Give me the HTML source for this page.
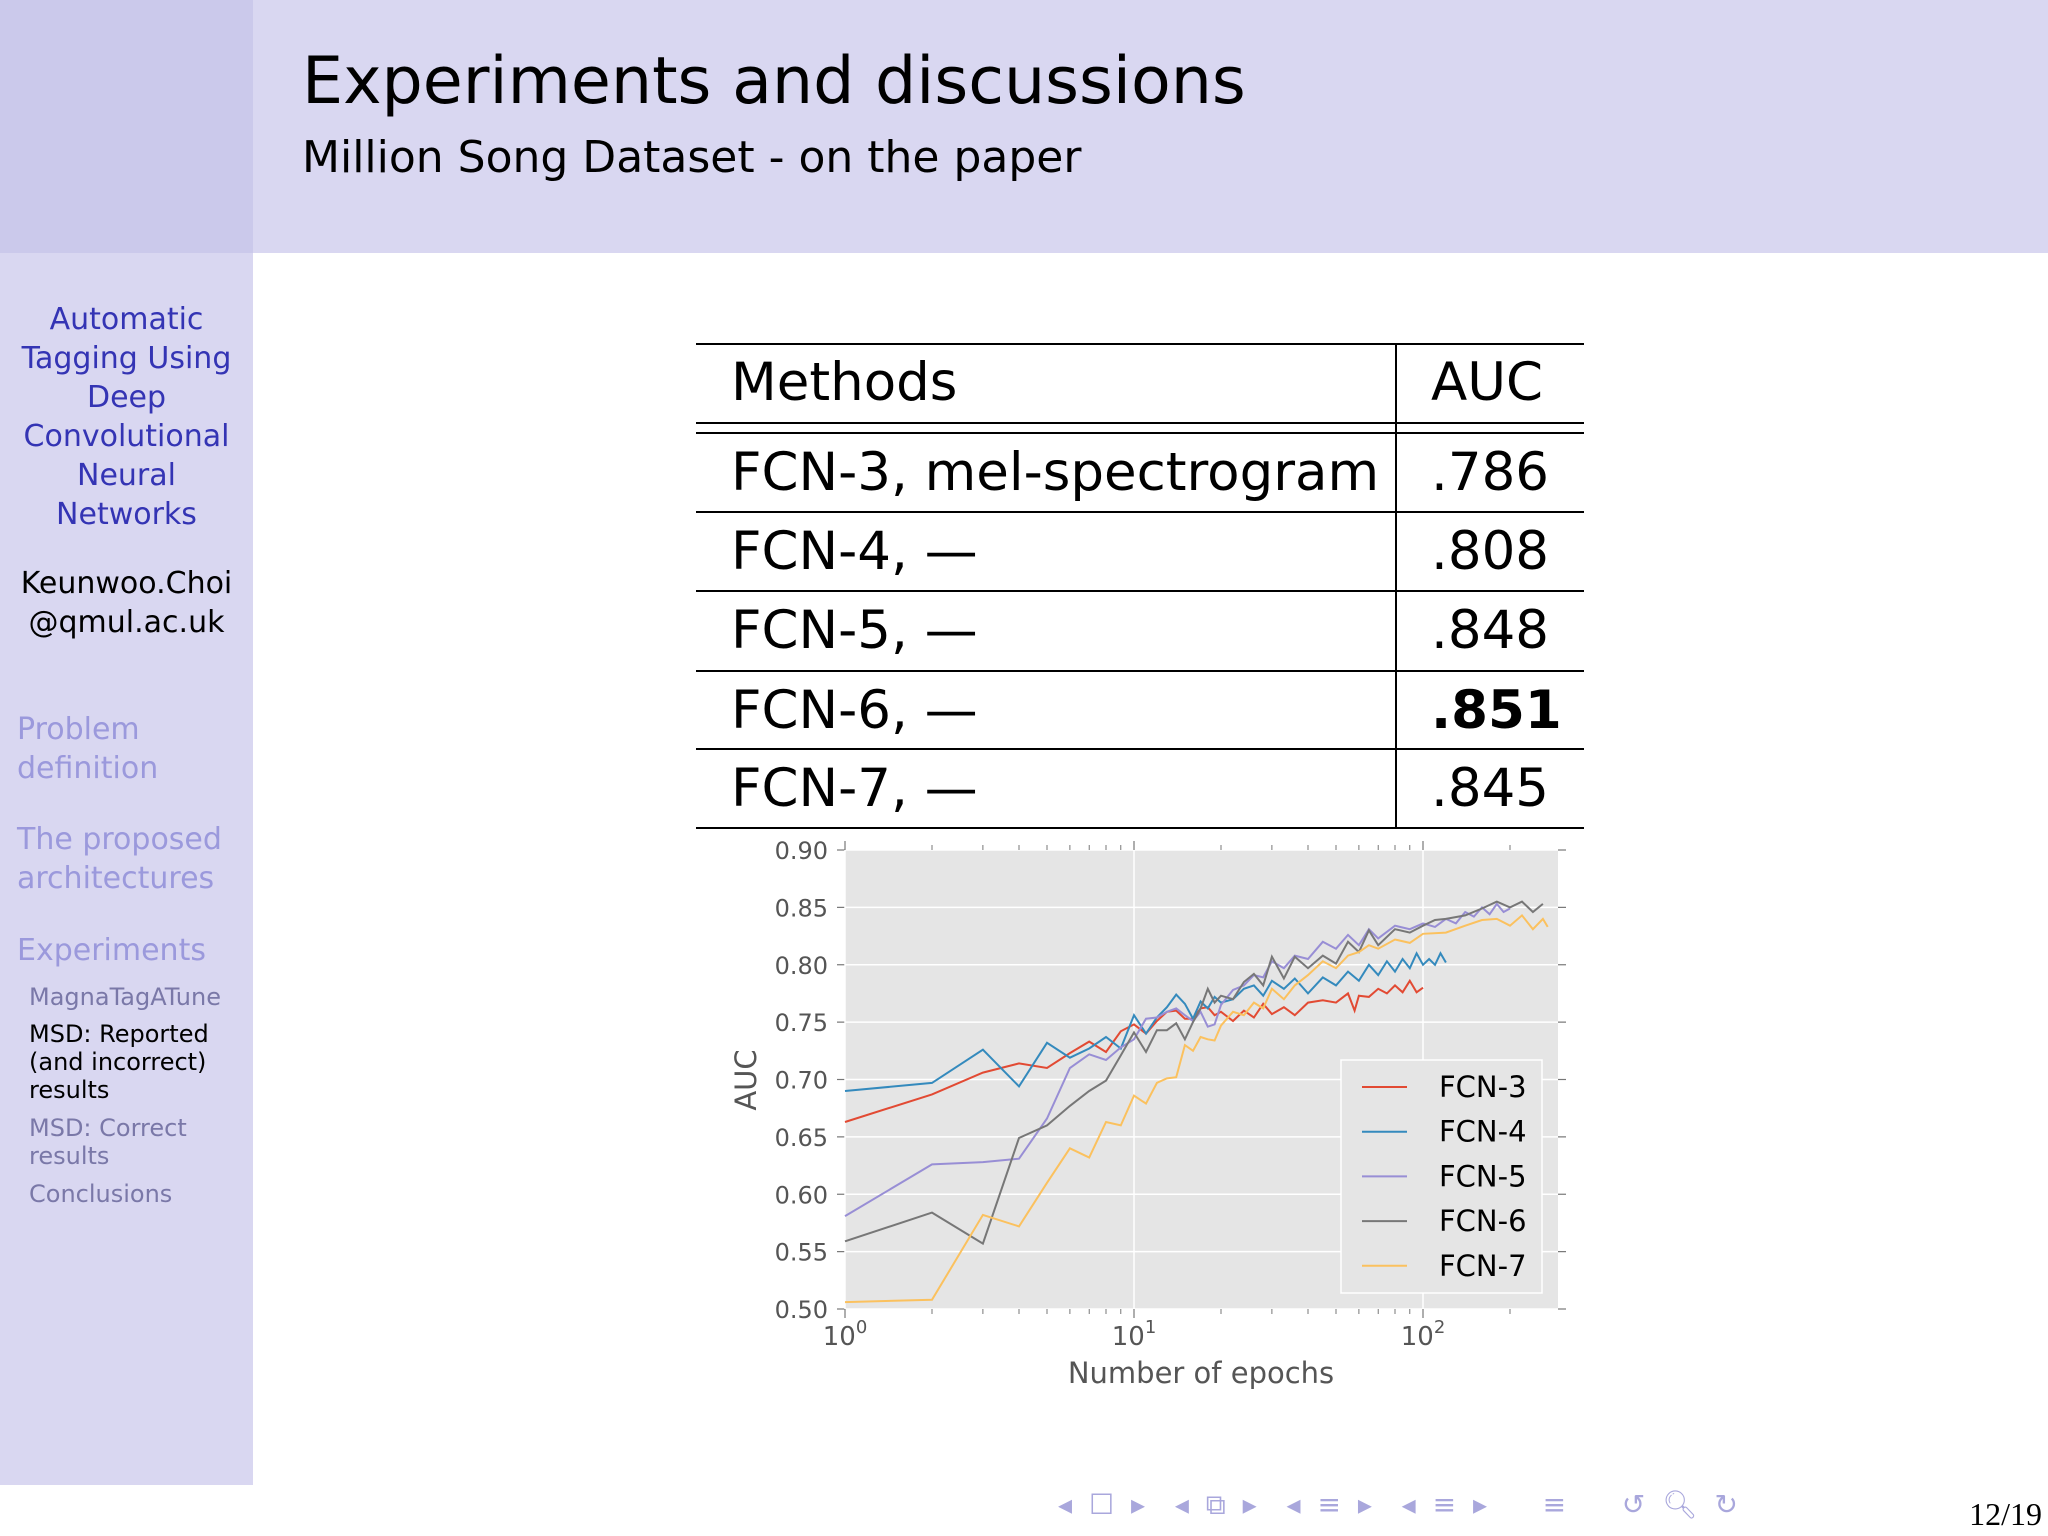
<!DOCTYPE html>
<html><head><meta charset="utf-8">
<style>
body{margin:0;width:2048px;height:1536px;position:relative;background:#fff;font-family:"DejaVu Sans","Liberation Sans",sans-serif;overflow:hidden}
.abs{position:absolute}
#header{left:0;top:0;width:2048px;height:253px;background:#d9d7f1}
#corner{left:0;top:0;width:253px;height:253px;background:#cbc9eb}
#sidebar{left:0;top:253px;width:253px;height:1232px;background:#d9d7f1}
.sb{position:absolute;width:253px;text-align:center;font-size:30px;color:#3434b4;line-height:39px}
.sec{position:absolute;left:17px;font-size:30px;color:#9b99dc;line-height:39px}
.sub{position:absolute;left:29px;font-size:24px;color:#7a78a8;line-height:28px}
.tb{position:absolute;left:696px;top:343px;width:888px}
.row{position:absolute;left:0;width:888px;height:79px;font-size:53px;line-height:79px;color:#000}
.row .m{position:absolute;left:35px}
.row .a{position:absolute;left:735px}
.hl{position:absolute;left:0;width:888px;height:2px;background:#000}
</style></head><body>
<div id="header" class="abs"></div>
<div id="corner" class="abs"></div>
<div class="abs" style="left:302px;top:44px;font-size:65px;color:#000">Experiments and discussions</div>
<div class="abs" style="left:302px;top:132px;font-size:44px;color:#000">Million Song Dataset - on the paper</div>
<div id="sidebar" class="abs"></div>
<div class="sb" style="top:300px">Automatic<br>Tagging Using<br>Deep<br>Convolutional<br>Neural<br>Networks</div>
<div class="sb" style="top:564px;color:#000">Keunwoo.Choi<br>@qmul.ac.uk</div>
<div class="sec" style="top:710px">Problem<br>definition</div>
<div class="sec" style="top:820px">The proposed<br>architectures</div>
<div class="sec" style="top:931px">Experiments</div>
<div class="sub" style="top:983px">MagnaTagATune</div>
<div class="sub" style="top:1020px;color:#000">MSD: Reported<br>(and incorrect)<br>results</div>
<div class="sub" style="top:1114px">MSD: Correct<br>results</div>
<div class="sub" style="top:1180px">Conclusions</div>

<div class="tb">
 <div class="hl" style="top:0"></div>
 <div class="row" style="top:0"><span class="m">Methods</span><span class="a">AUC</span></div>
 <div class="hl" style="top:79px"></div><div class="hl" style="top:89px"></div>
 <div class="row" style="top:90px"><span class="m">FCN-3, mel-spectrogram</span><span class="a">.786</span></div>
 <div class="hl" style="top:168px"></div>
 <div class="row" style="top:169px"><span class="m">FCN-4, —</span><span class="a">.808</span></div>
 <div class="hl" style="top:247px"></div>
 <div class="row" style="top:248px"><span class="m">FCN-5, —</span><span class="a">.848</span></div>
 <div class="hl" style="top:327px"></div>
 <div class="row" style="top:328px"><span class="m">FCN-6, —</span><span class="a" style="font-weight:bold">.851</span></div>
 <div class="hl" style="top:405px"></div>
 <div class="row" style="top:406px"><span class="m">FCN-7, —</span><span class="a">.845</span></div>
 <div class="hl" style="top:484px"></div>
 <div class="abs" style="left:699px;top:0;width:2px;height:486px;background:#000"></div>
</div>

<svg id="chart" class="abs" style="left:0;top:0" width="2048" height="1536"></svg>

<div class="abs" style="left:1058px;top:1488px;font-size:28px;color:#a9a7dc;letter-spacing:4px">◂ ☐ ▸ &nbsp;◂ ⧉ ▸ &nbsp;◂ ≡ ▸ &nbsp;◂ ≡ ▸ &nbsp;&nbsp; ≡ &nbsp;&nbsp; ↺ 🔍︎ ↻</div>
<div class="abs" style="right:6px;top:1496px;font-size:32px;font-family:'Liberation Serif',serif">12/19</div>

<script>
const series3x=[1,2,3,4,5,6,7,8,9,10,11,12,13,14,15,16,17,18,19,20,22,24,26,28,30,33,36,40,45,50,55,58,60,65,70,75,80,85,90,95,100];
const series3y=[0.663,0.687,0.706,0.714,0.710,0.723,0.733,0.724,0.742,0.748,0.740,0.751,0.759,0.760,0.753,0.753,0.762,0.763,0.756,0.759,0.751,0.760,0.754,0.766,0.757,0.763,0.756,0.767,0.769,0.767,0.775,0.760,0.773,0.772,0.779,0.775,0.782,0.776,0.786,0.776,0.780];
const series4x=[1,2,3,4,5,6,7,8,9,10,11,12,13,14,15,16,17,18,19,20,22,24,26,28,30,33,36,40,45,50,55,60,65,70,75,80,85,90,95,100,105,110,115,120];
const series4y=[0.690,0.697,0.726,0.694,0.732,0.719,0.727,0.737,0.727,0.756,0.740,0.754,0.763,0.774,0.766,0.753,0.768,0.762,0.772,0.767,0.770,0.779,0.782,0.773,0.786,0.779,0.788,0.775,0.789,0.782,0.794,0.786,0.800,0.791,0.803,0.794,0.805,0.797,0.810,0.800,0.805,0.800,0.810,0.802];
const series5x=[1,2,3,4,5,6,7,8,9,10,11,12,13,14,15,16,17,18,19,20,22,24,26,28,30,33,36,40,45,50,55,60,65,70,80,90,100,110,120,130,140,150,160,170,180,190,200];
const series5y=[0.581,0.626,0.628,0.631,0.666,0.710,0.722,0.717,0.728,0.735,0.753,0.754,0.759,0.762,0.756,0.751,0.759,0.746,0.748,0.765,0.778,0.782,0.791,0.789,0.803,0.797,0.808,0.805,0.820,0.814,0.826,0.817,0.831,0.823,0.834,0.831,0.836,0.833,0.840,0.836,0.846,0.842,0.850,0.844,0.853,0.846,0.849];
const series6x=[1,2,3,4,5,6,7,8,9,10,11,12,13,14,15,16,17,18,19,20,22,24,26,28,30,33,36,40,45,50,55,60,65,70,80,90,100,110,120,140,160,180,200,220,240,260];
const series6y=[0.559,0.584,0.557,0.649,0.660,0.677,0.690,0.699,0.721,0.741,0.724,0.743,0.743,0.749,0.735,0.750,0.762,0.779,0.767,0.773,0.770,0.785,0.792,0.782,0.807,0.788,0.807,0.797,0.808,0.801,0.820,0.811,0.830,0.817,0.831,0.828,0.834,0.839,0.840,0.843,0.849,0.855,0.850,0.855,0.846,0.853];
const series7x=[1,2,3,4,5,6,7,8,9,10,11,12,13,14,15,16,17,18,19,20,22,24,26,28,30,33,36,40,45,50,55,60,65,70,80,90,100,120,140,160,180,200,220,240,260,270];
const series7y=[0.506,0.508,0.582,0.572,0.610,0.640,0.632,0.663,0.660,0.686,0.679,0.697,0.701,0.702,0.730,0.725,0.737,0.735,0.734,0.747,0.759,0.756,0.767,0.762,0.779,0.770,0.782,0.791,0.803,0.797,0.808,0.811,0.817,0.814,0.822,0.819,0.827,0.828,0.834,0.839,0.840,0.834,0.843,0.831,0.840,0.833];
const seriesNames=["FCN-3","FCN-4","FCN-5","FCN-6","FCN-7"];
const yTicks=[0.50,0.55,0.60,0.65,0.70,0.75,0.80,0.85,0.90];
const xDecades=[0,1,2];

const NS="http://www.w3.org/2000/svg";
const svg=document.getElementById('chart');
const L=845,R=1558,T=850,B=1309,DEC=289;
const xs=v=>L+Math.log10(v)*DEC;
const ys=v=>B-(v-0.5)/0.4*(B-T);
function mk(tag,attrs,parent){const e=document.createElementNS(NS,tag);for(const k in attrs)e.setAttribute(k,attrs[k]);(parent||svg).appendChild(e);return e;}
const colors=["#e24a33","#348abd","#988ed5","#777777","#fbc15e"];
const bg=mk('rect',{x:L,y:T,width:R-L,height:B-T,fill:'#e5e5e5'});


yTicks.forEach(t=>{
  const y=ys(t);
  mk('line',{x1:L,x2:R,y1:y,y2:y,stroke:'#fff','stroke-width':1.5});
  mk('line',{x1:L-8,x2:L,y1:y,y2:y,stroke:'#777','stroke-width':1.2});
  mk('line',{x1:R,x2:R+8,y1:y,y2:y,stroke:'#777','stroke-width':1.2});
  const tx=mk('text',{x:L-17,y:y+9,'text-anchor':'end','font-size':24,fill:'#555','font-family':'DejaVu Sans, sans-serif'});
  tx.textContent=t.toFixed(2);
  
  
});
xDecades.forEach(d=>{
  const x=L+d*DEC;
  mk('line',{x1:x,x2:x,y1:T,y2:B,stroke:'#fff','stroke-width':1.5});
  mk('line',{x1:x,x2:x,y1:T-9,y2:T,stroke:'#777','stroke-width':1.2});
  mk('line',{x1:x,x2:x,y1:B,y2:B+9,stroke:'#777','stroke-width':1.2});
  const tx=mk('text',{x:x,y:1345,'text-anchor':'middle','font-size':26,fill:'#555','font-family':'DejaVu Sans, sans-serif'});
  tx.innerHTML='10<tspan dy="-12" font-size="18">'+d+'</tspan>';
  
  
  for(let m=2;m<10;m++){const xm=x+Math.log10(m)*DEC;if(xm>R)break;
    mk('line',{x1:xm,x2:xm,y1:T-5,y2:T,stroke:'#777','stroke-width':1});
    mk('line',{x1:xm,x2:xm,y1:B,y2:B+5,stroke:'#777','stroke-width':1});}
});
const xl=mk('text',{x:1201,y:1383,'text-anchor':'middle','font-size':29,fill:'#555','font-family':'DejaVu Sans, sans-serif'});
xl.textContent='Number of epochs';


const yl=mk('text',{x:756,y:1080,'text-anchor':'middle','font-size':29,fill:'#555','font-family':'DejaVu Sans, sans-serif',transform:'rotate(-90 756 1080)'});
yl.textContent='AUC';


const allX=[series3x,series4x,series5x,series6x,series7x],allY=[series3y,series4y,series5y,series6y,series7y];
allX.forEach((sx,i)=>{
  const pts=sx.map((v,j)=>xs(v).toFixed(1)+','+ys(allY[i][j]).toFixed(1)).join(' ');
  const p=mk('polyline',{points:pts,fill:'none',stroke:colors[i],'stroke-width':2});
  
  
});
const lg=mk('rect',{x:1341,y:1060,width:201,height:233,fill:'#e5e5e5',stroke:'#fff','stroke-width':1.5});


seriesNames.forEach((n,i)=>{
  const y=1087+i*44.7;
  mk('line',{x1:1362,x2:1407,y1:y,y2:y,stroke:colors[i],'stroke-width':2});
  const t=mk('text',{x:1439,y:y+10,'font-size':29,fill:'#000','font-family':'DejaVu Sans, sans-serif'});
  t.textContent=n;
  
  
});
</script>
</body></html>
